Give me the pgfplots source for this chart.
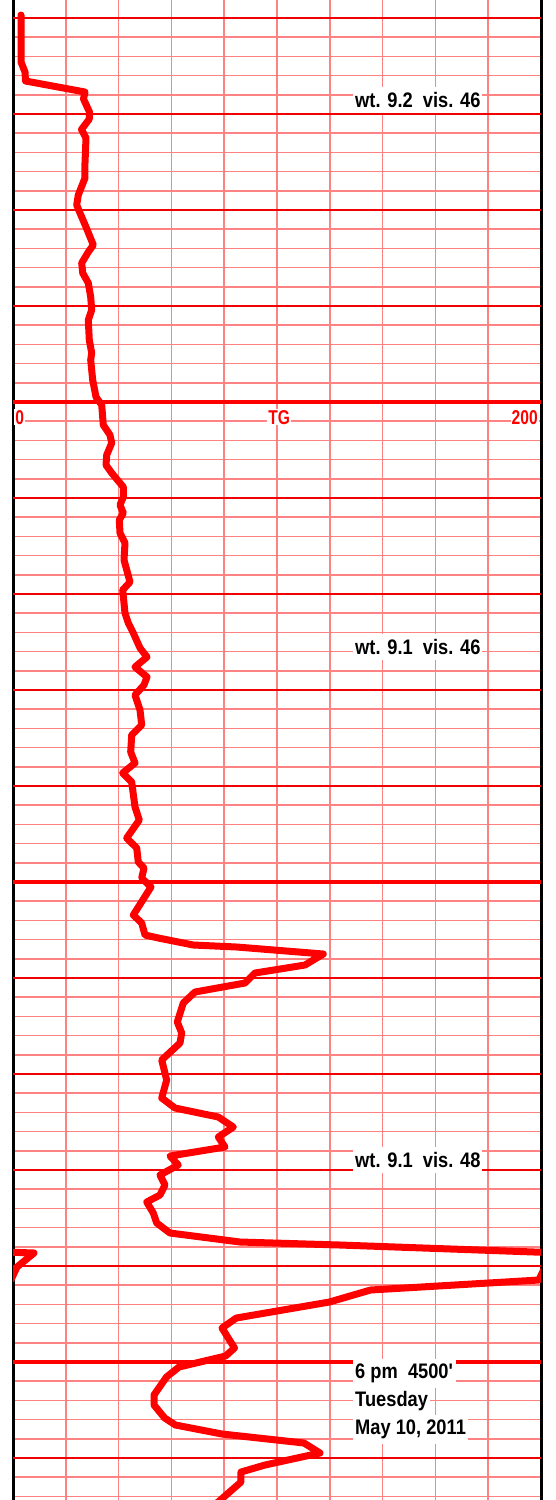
\documentclass[border=0pt]{standalone}
\usepackage{pgfplots}
\pgfplotsset{compat=1.18}
\usepackage{fontspec}
\setmainfont{Liberation Sans}
\newfontfamily\lbl[FakeStretch=0.87]{Liberation Sans}
\newfontfamily\lblred[FakeStretch=0.78]{Liberation Sans}
\definecolor{gridlight}{RGB}{255,130,130}
\definecolor{gridmajor}{RGB}{240,0,0}
\definecolor{curvered}{RGB}{255,0,0}
\begin{document}
\begin{tikzpicture}
\begin{axis}[
  at={(13pt,0pt)}, anchor=south west,
  scale only axis, width=528pt, height=1500pt,
  xmin=0, xmax=200, ymin=0, ymax=1500, y dir=reverse,
  separate axis lines,
  x axis line style={draw=none},
  y axis line style={black, line width=3pt},
  xtick={20,40,...,180}, xticklabels={},
  ytick={18,37.2,...,1497}, yticklabels={},
  extra y ticks={18,114,...,1458}, extra y tick labels={},
  extra y tick style={grid=major, major grid style={gridmajor, line width=1.4pt}},
  major grid style={gridlight, line width=1.6pt},
  xmajorgrids, ymajorgrids,
  tick style={draw=none}, major tick length=0pt, minor tick length=0pt,
  clip=true,
]
% heavy horizontal lines
\addplot[curvered, line width=3.5pt, forget plot] coordinates {(0,402) (200,402)};
\addplot[curvered, line width=3.5pt, forget plot] coordinates {(0,882) (200,882)};
\addplot[curvered, line width=3.5pt, forget plot] coordinates {(0,1362) (200,1362)};
% TG curve
\addplot[curvered, line width=7pt, line join=round, line cap=round] coordinates {
(3.03,15) (3.03,62) (4.55,72) (4.73,81) (27.27,92) (26.70,99) (28.98,112) (28.90,119)
(25.95,129.5) (27.65,138) (27.27,163) (27.27,178) (24.73,195) (24.13,205) (25.38,213)
(27.65,227) (30.42,245) (28.52,252) (26.02,263) (26.40,273) (28.52,283) (29.43,297)
(29.81,310) (28.52,320) (28.90,340) (29.81,353) (29.43,360) (30.19,380) (31.44,397)
(33.60,405) (34.20,425) (36.74,435) (37.39,443) (35.49,455) (35.23,465) (37.39,473)
(41.78,487) (41.78,497) (40.53,505) (41.78,513) (40.27,520) (40.53,533) (42.42,543)
(42.05,560) (44.32,582) (41.55,590) (42.42,613) (43.67,623) (45.57,633) (48.11,648)
(50.76,657) (46.21,667) (50.76,677) (49.62,685) (46.21,695) (48.11,710) (48.75,725)
(44.96,735) (44.58,752) (46.21,763) (41.55,773) (44.96,782) (46.21,807) (47.84,820)
(43.07,838) (46.86,848) (47.46,862) (49.62,868) (48.75,878) (52.27,887) (45.57,915)
(48.75,923) (50.00,935) (55.04,938) (68.30,945) (84.73,947) (117.54,954) (110.61,965)
(91.67,973) (87.88,983) (68.94,992) (64.51,1003) (62.23,1022) (63.90,1033) (63.26,1043)
(56.33,1060) (58.22,1080) (56.33,1098) (61.36,1108) (77.77,1117) (83.45,1127) (77.77,1137)
(80.30,1147) (59.47,1156) (62.61,1165) (55.68,1175) (57.58,1185) (55.68,1195) (50.64,1202)
(53.14,1213) (54.43,1223) (59.47,1233) (85.98,1242) (123.86,1245) (207.95,1253)
(201.52,1267) (199.20,1280) (135.45,1290) (119.85,1302) (84.58,1318) (79.17,1328)
(83.90,1348) (80.53,1356) (62.88,1367) (58.14,1377) (53.41,1395) (53.41,1405)
(57.46,1418) (61.52,1425) (79.17,1434) (110.23,1443) (116.29,1453) (95.45,1465)
(86.36,1472) (86.36,1482) (80.30,1496) (77.27,1503)
};
% wrapped part of the curve (values above 200 restart at 0)
\addplot[curvered, line width=7pt, line join=round, line cap=round] coordinates {
(-76.14,1245) (7.95,1253) (1.52,1267) (-0.80,1280)
};
% scale labels
\node[anchor=base west, fill=white, inner sep=1pt, text=curvered,
  font={\lblred\bfseries\fontsize{20}{22}\selectfont}] at (axis cs:0.4,424) {0};
\node[anchor=base, fill=white, inner sep=1pt, text=curvered,
  font={\lblred\bfseries\fontsize{20}{22}\selectfont}] at (axis cs:100.8,424) {TG};
\node[anchor=base east, fill=white, inner sep=1pt, text=curvered,
  font={\lblred\bfseries\fontsize{20}{22}\selectfont}] at (axis cs:199.2,424) {200};
% annotations
\tikzset{ann/.style={anchor=base west, fill=white, inner xsep=2pt, inner ysep=5pt,
  font={\lbl\bfseries\fontsize{21}{24}\selectfont}}}
\node[ann] at (axis cs:128.8,107.5) {wt. 9.2\ \ vis. 46};
\node[ann] at (axis cs:128.8,654.5) {wt. 9.1\ \ vis. 46};
\node[ann] at (axis cs:128.8,1167.5) {wt. 9.1\ \ vis. 48};
\node[ann] at (axis cs:128.8,1378.5) {6 pm\ \ 4500\textquotesingle};
\node[ann] at (axis cs:128.8,1406) {Tuesday};
\node[ann] at (axis cs:128.8,1434.5) {May 10, 2011};
\end{axis}
\pgfresetboundingbox
\useasboundingbox (0,0) rectangle (555pt,1500pt);
\end{tikzpicture}
\end{document}
